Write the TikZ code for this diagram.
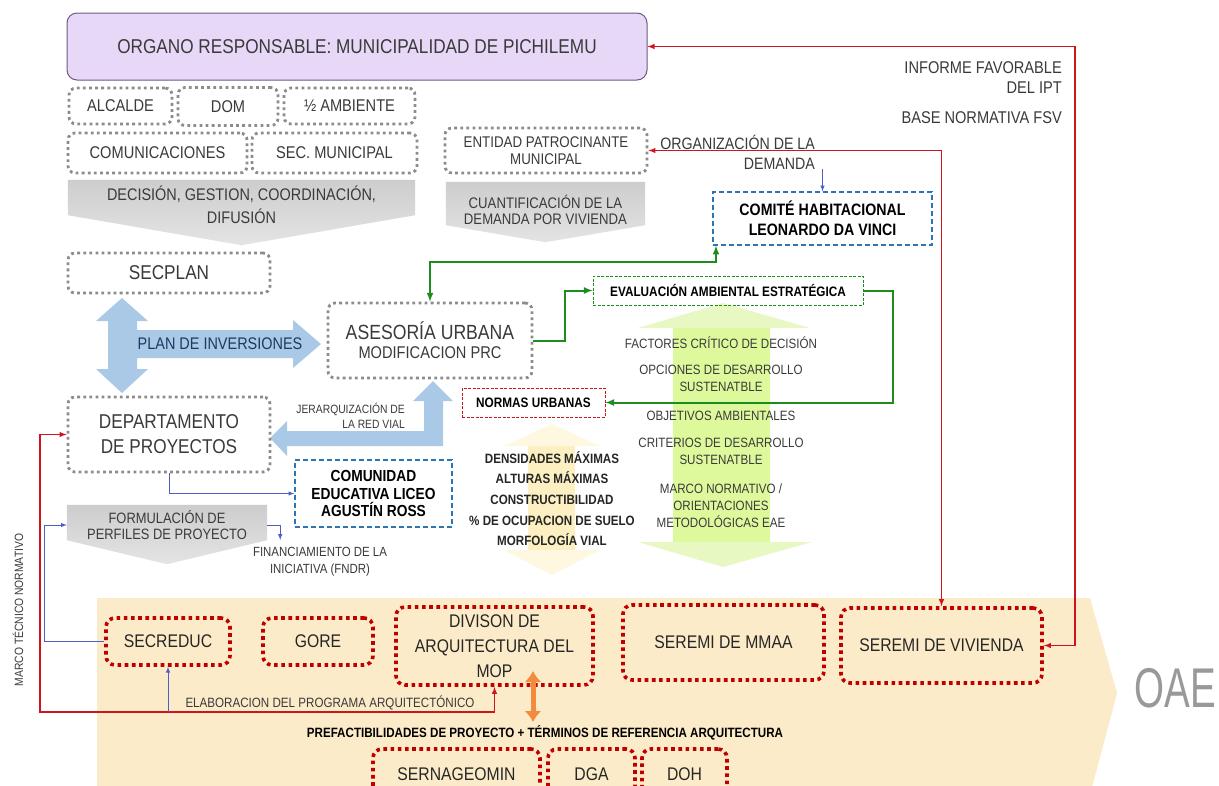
\documentclass[tikz,border=0pt]{standalone}
\usepackage{fontspec}
\setmainfont{Liberation Sans}[FakeStretch=0.86]
\usepackage{xcolor}
\usepackage{tikz}
\usetikzlibrary{arrows.meta}

\definecolor{txtgray}{HTML}{3A3A3A}
\definecolor{dotgray}{HTML}{8C8C8C}
\definecolor{lilac}{HTML}{E7D8F8}
\definecolor{lilacline}{HTML}{6E5A80}
\definecolor{boxred}{HTML}{C00000}
\definecolor{linered}{HTML}{D0141E}
\definecolor{boxblue}{HTML}{2E75B6}
\definecolor{lineblue}{HTML}{4A5FC8}
\definecolor{linegreen}{HTML}{1E8C1E}
\definecolor{arrowblue}{HTML}{A9C9E7}
\definecolor{navytext}{HTML}{1F3864}
\definecolor{chevtop}{HTML}{CDCDCD}
\definecolor{chevbot}{HTML}{E4E4E4}
\definecolor{peach}{HTML}{FCEBC8}
\definecolor{limehead}{HTML}{E8F8C2}
\definecolor{limeshaft}{HTML}{DEF99C}
\definecolor{paleyellow}{HTML}{FEF8E0}
\definecolor{yellowshaft}{HTML}{FCF0C2}
\definecolor{orangearrow}{HTML}{F28C3C}

\pgfdeclarelayer{background}
\pgfsetlayers{background,main}

\begin{document}
\begin{tikzpicture}[>=latex, x=1pt, y=-1pt,
    every node/.style={text=txtgray, align=center, inner sep=0pt},
    dotbox/.style={draw=dotgray, line width=2.8pt, dash pattern=on 2.8pt off 3.3pt,
        rounded corners=7pt, font=\fontsize{17}{19}\selectfont},
    reddot/.style={draw=boxred, line width=3.6pt, dash pattern=on 3.6pt off 3.6pt,
        rounded corners=9pt, text=black!85, font=\fontsize{18.3}{25}\selectfont},
    bluebox/.style={draw=boxblue, line width=1.3pt, dash pattern=on 5pt off 3pt,
        text=black, font=\bfseries\fontsize{16.5}{20}\selectfont},
    greenbox/.style={draw=linegreen, line width=0.6pt, dash pattern=on 3pt off 1.5pt,
        text=black, font=\bfseries\fontsize{13.7}{16}\selectfont},
    normbox/.style={draw=linered, line width=0.6pt, dash pattern=on 3pt off 1.5pt,
        text=black, font=\bfseries\fontsize{13.7}{16}\selectfont},
    redline/.style={draw=linered, line width=1.4pt},
    blueline/.style={draw=lineblue, line width=1pt},
    greenline/.style={draw=linegreen, line width=2pt},
    chevtext/.style={text=txtgray, font=\fontsize{16.8}{23}\selectfont}]

    % page
    \useasboundingbox (0,0) rectangle (1219,785);
    \begin{pgfonlayer}{background}
        \fill[white] (0,0) rectangle (1219,785);
    \end{pgfonlayer}

    % OAE band
    \fill[peach] (97,598) -- (1090,598) -- (1117,693) -- (1090,795) -- (97,795) -- cycle;
    \node[text=gray!80, font=\fontsize{56}{56}\selectfont] (oae) at (1175,688) {\scalebox{0.8}[1]{OAE}};

    % big blue arrows
    \fill[arrowblue] (122,298) -- (148,321) -- (137,321) -- (137,330) -- (293,330) -- (293,320)
        -- (321,344) -- (293,368) -- (293,358) -- (137,358) -- (137,369) -- (148,369)
        -- (122,393) -- (96,369) -- (108,369) -- (108,321) -- (96,321) -- cycle;
    \fill[arrowblue] (433,381) -- (453,401) -- (443,401) -- (443,446) -- (287,446) -- (287,456)
        -- (270,438) -- (287,421) -- (287,431) -- (424,431) -- (424,401) -- (413,401) -- cycle;

    % green and yellow arrows
    \fill[limehead] (723,303) -- (810,328) -- (770,328) -- (770,542) -- (812,542) -- (723,567)
        -- (638,542) -- (673,542) -- (673,328) -- (638,328) -- cycle;
    \fill[limeshaft] (673,328) rectangle (770,542);
    \fill[paleyellow] (552,424) -- (600,446) -- (575,446) -- (575,550) -- (600,550) -- (552,575)
        -- (504,550) -- (528,550) -- (528,446) -- (504,446) -- cycle;
    \fill[yellowshaft] (528,446) rectangle (575,550);

    % head of the municipality
    \node[draw=lilacline, line width=1pt, fill=lilac, rounded corners=10pt,
        minimum width=580pt, minimum height=67pt, font=\fontsize{20}{22}\selectfont]
        (organo) at (357,46.5) {ORGANO RESPONSABLE: MUNICIPALIDAD DE PICHILEMU};

    % municipal units
    \foreach \name/\txt/\x/\y/\w/\h in {alcalde/ALCALDE/120.5/106/103/36,
        dom/DOM/228/106.5/100/38, ambiente/½ AMBIENTE/349.5/106/131/36,
        comunic/COMUNICACIONES/157.5/153/179/40, secmun/SEC. MUNICIPAL/334.5/153/165/40}
    {
        \node[dotbox, minimum width=\w pt, minimum height=\h pt] (\name) at (\x,\y) {\txt};
    }

    % grey chevrons
    \node[chevtext, minimum width=347pt, minimum height=50pt] (decision) at (241.5,205)
        {DECISIÓN, GESTION, COORDINACIÓN,\\DIFUSIÓN};
    \node[chevtext, minimum width=199pt, minimum height=56pt,
        font=\fontsize{15.3}{16.5}\selectfont] (cuantif) at (545.5,210)
        {CUANTIFICACIÓN DE LA\\DEMANDA POR VIVIENDA};
    \node[chevtext, minimum width=200pt, minimum height=40pt,
        font=\fontsize{15}{16.5}\selectfont] (formulacion) at (167,525)
        {FORMULACIÓN DE\\PERFILES DE PROYECTO};
    \begin{pgfonlayer}{background}
        \shade[top color=chevtop, bottom color=chevbot] (decision.north west) -- (decision.north east)
            -- ([yshift=15pt]decision.south east) -- ([yshift=-15pt]decision.south)
            -- ([yshift=15pt]decision.south west) -- cycle;
        \shade[top color=chevtop, bottom color=chevbot] (cuantif.north west) -- (cuantif.north east)
            -- ([yshift=13pt]cuantif.south east) -- ([yshift=-4pt]cuantif.south)
            -- ([yshift=13pt]cuantif.south west) -- cycle;
        \shade[top color=chevtop, bottom color=chevbot] (formulacion.north west) -- (formulacion.north east)
            -- ([yshift=5pt]formulacion.south east) -- ([yshift=-19pt]formulacion.south)
            -- ([yshift=5pt]formulacion.south west) -- cycle;
    \end{pgfonlayer}

    % planning boxes
    \node[dotbox, font=\fontsize{15.5}{17}\selectfont, minimum width=202pt, minimum height=45pt]
        (entidad) at (546,150.5) {ENTIDAD PATROCINANTE\\MUNICIPAL};
    \node[bluebox, minimum width=219pt, minimum height=53pt] (comite) at (822.5,218.5)
        {COMITÉ HABITACIONAL\\LEONARDO DA VINCI};
    \node[dotbox, font=\fontsize{20}{22}\selectfont, minimum width=202pt, minimum height=40pt]
        (secplan) at (169,273) {SECPLAN};
    \node[dotbox, minimum width=204pt, minimum height=75pt] (asesoria) at (430,340.5)
        {{\fontsize{20.5}{24}\selectfont ASESORÍA URBANA}\\{\fontsize{17}{20}\selectfont MODIFICACION PRC}};
    \node[greenbox, minimum width=270pt, minimum height=29pt] (eae) at (728,290.5)
        {EVALUACIÓN AMBIENTAL ESTRATÉGICA};
    \node[normbox, minimum width=143pt, minimum height=29pt] (normas) at (533.5,402.5)
        {NORMAS URBANAS};
    \node[dotbox, font=\fontsize{20}{25}\selectfont, minimum width=202pt, minimum height=75pt]
        (depto) at (169,434.5) {DEPARTAMENTO\\DE PROYECTOS};
    \node[bluebox, font=\bfseries\fontsize{16}{17.5}\selectfont, minimum width=157pt,
        minimum height=67pt] (comunidad) at (373.5,493.5)
        {COMUNIDAD\\EDUCATIVA LICEO\\AGUSTÍN ROSS};

    % OAE boxes
    \foreach \name/\txt/\x/\y/\w/\h in {secreduc/SECREDUC/168/641.5/124/47,
        gore/GORE/318/641.5/110/47, mop/{DIVISON DE\\ARQUITECTURA DEL\\MOP}/494.5/646/197/78,
        mmaa/SEREMI DE MMAA/723.5/642.5/201/75, vivienda/SEREMI DE VIVIENDA/941.5/645.5/201/75,
        sernageomin/SERNAGEOMIN/456.5/774.5/167/51, dga/DGA/591.5/774.5/87/51,
        doh/DOH/684.5/774.5/85/51}
    {
        \node[reddot, minimum width=\w pt, minimum height=\h pt] (\name) at (\x,\y) {\txt};
    }

    % labels
    \node[font=\fontsize{17}{20}\selectfont, align=right, anchor=east] (informe) at (1062,78)
        {INFORME FAVORABLE\\DEL IPT};
    \node[font=\fontsize{17}{20}\selectfont, anchor=east] (basefsv) at (1062,118) {BASE NORMATIVA FSV};
    \node[font=\fontsize{16.5}{20}\selectfont, align=right, anchor=east] (organiz) at (815,152)
        {ORGANIZACIÓN DE LA\\DEMANDA};
    \node[text=navytext, font=\fontsize{16.8}{18}\selectfont] (planinv) at (220,344) {PLAN DE INVERSIONES};
    \node[font=\fontsize{12}{15}\selectfont, align=right, anchor=east] (jerarq) at (405,415.5)
        {JERARQUIZACIÓN DE\\LA RED VIAL};
    \node[text=black!85, font=\bfseries\fontsize{13.5}{20.7}\selectfont] (parametros) at (552,498.5)
        {DENSIDADES MÁXIMAS\\ALTURAS MÁXIMAS\\CONSTRUCTIBILIDAD\\\% DE OCUPACION DE SUELO\\MORFOLOGÍA VIAL};
    \foreach \txt/\y [count=\i] in {{FACTORES CRÍTICO DE DECISIÓN}/343,
        {OPCIONES DE DESARROLLO\\SUSTENATBLE}/378.5, {OBJETIVOS AMBIENTALES}/416,
        {CRITERIOS DE DESARROLLO\\SUSTENATBLE}/451.5,
        {MARCO NORMATIVO /\\ORIENTACIONES\\METODOLÓGICAS EAE}/505.5}
    {
        \node[font=\fontsize{13.5}{17}\selectfont] (eae-\i) at (721,\y) {\txt};
    }
    \node[font=\fontsize{13.3}{17}\selectfont] (financ) at (320,561.5) {FINANCIAMIENTO DE LA\\INICIATIVA (FNDR)};
    \node[font=\fontsize{13.5}{14}\selectfont] (elabor) at (330,703) {ELABORACION DEL PROGRAMA ARQUITECTÓNICO};
    \node[text=black, font=\bfseries\fontsize{13.5}{14}\selectfont] (prefact) at (545,733)
        {PREFACTIBILIDADES DE PROYECTO + TÉRMINOS DE REFERENCIA ARQUITECTURA};
    \node[rotate=90, font=\fontsize{12}{14}\selectfont] (marco) at (18,610) {MARCO TÉCNICO NORMATIVO};

    % connections
    \coordinate (rightline) at (1075,0);
    \coordinate (gknee) at (716,262);
    \coordinate (redcorner) at (40,712);
    \coordinate (otop) at (533,671);
    \coordinate (obot) at (533,722);
    \draw[redline, <->] (organo.east) -- (organo.east -| rightline) -- (rightline |- vivienda.east) -- (vivienda.east);
    \draw[redline, <->] (entidad.east) -| (vivienda.north);
    \draw[blueline, ->] (comite.north |- organiz.south) -- (comite.north);
    \draw[greenline, <->] (asesoria.north) |- (gknee) -- (gknee |- comite.south);
    \draw[greenline, ->] (asesoria.east) -- ++(32,0) |- (eae.west);
    \draw[greenline, ->] (eae.east) -- ++(30,0) |- (normas.east);
    \draw[blueline, ->] (depto.south) |- (comunidad.west);
    \draw[blueline, ->] (formulacion.east) -- ++(13,0) -- ++(0,15);
    \draw[blueline, ->] (secreduc.west) -- ++(-60,0) |- (formulacion.west);
    \draw[redline, <->] (depto.west) -| (redcorner) -| (mop.south);
    \draw[blueline, ->] (secreduc.south |- redcorner) -- (secreduc.south);
    \draw[draw=orangearrow, line width=5pt, {Latex[length=11pt,width=17pt]}-{Latex[length=11pt,width=17pt]}] (otop) -- (obot);

\end{tikzpicture}
\end{document}
